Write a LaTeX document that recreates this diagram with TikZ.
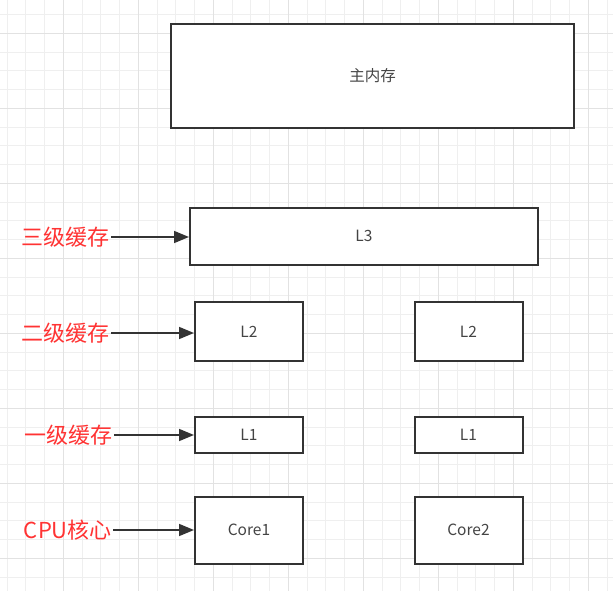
\documentclass[tikz,border=0pt]{standalone}
\usepackage{fontspec}
\setmainfont{Noto Sans CJK SC}
\usetikzlibrary{arrows.meta}
\definecolor{minorgrid}{HTML}{EFEFEF}
\definecolor{majorgrid}{HTML}{E2E2E2}
\definecolor{boxline}{HTML}{333333}
\definecolor{boxtext}{HTML}{444444}
\definecolor{lblred}{HTML}{FF3333}
\tikzset{
  membox/.style={draw=boxline, line width=2pt, fill=white, inner sep=0pt,
    font=\fontsize{15.5}{18}\selectfont, text=boxtext},
  lvllabel/.style={anchor=east, inner sep=1pt, text=lblred,
    font=\fontsize{22}{25}\selectfont},
  lvlarrow/.style={draw=boxline, line width=1.6pt,
    -{Triangle[length=15pt,width=12pt]}}
}
\begin{document}
\begin{tikzpicture}[x=1pt,y=-1pt]
\useasboundingbox (0,0) rectangle (613,591);
\fill[white] (0,0) rectangle (613,591);
% grid
\foreach \k in {0,...,32} {
  \draw[minorgrid, line width=1pt] ({7.1+18.75*\k},0) -- ({7.1+18.75*\k},591);
  \draw[minorgrid, line width=1pt] (0,{14.6+18.75*\k}) -- (613,{14.6+18.75*\k});
}
\foreach \k in {0,...,8} {
  \draw[majorgrid, line width=1pt] ({63.3+75*\k},0) -- ({63.3+75*\k},591);
  \draw[majorgrid, line width=1pt] (0,{33.3+75*\k}) -- (613,{33.3+75*\k});
}
% boxes
\node[membox, minimum width=403pt, minimum height=104pt] (mem) at (372.5,76) {主内存};
\node[membox, minimum width=348pt, minimum height=57pt] (l3) at (364,236) {L3};
\node[membox, minimum width=108pt, minimum height=59pt] (l2a) at (249,331.5) {L2};
\node[membox, minimum width=108pt, minimum height=59pt] (l2b) at (468.5,331.5) {L2};
\node[membox, minimum width=108pt, minimum height=36pt] (l1a) at (249,435) {L1};
\node[membox, minimum width=108pt, minimum height=36pt] (l1b) at (468.5,435) {L1};
\node[membox, minimum width=108pt, minimum height=67pt] (c1) at (249,530) {Core1};
\node[membox, minimum width=108pt, minimum height=67pt] (c2) at (468.5,530) {Core2};
% labels
\node[lvllabel] (t3) at (111,237) {三级缓存};
\node[lvllabel] (t2) at (111,333) {二级缓存};
\node[lvllabel] (t1) at (114,435) {一级缓存};
\node[lvllabel] (tc) at (113,530) {CPU核心};
% arrows
\draw[lvlarrow] (t3.east) -- (t3.east -| l3.west);
\draw[lvlarrow] (t2.east) -- (t2.east -| l2a.west);
\draw[lvlarrow] (t1.east) -- (t1.east -| l1a.west);
\draw[lvlarrow] (tc.east) -- (tc.east -| c1.west);
\end{tikzpicture}
\end{document}
